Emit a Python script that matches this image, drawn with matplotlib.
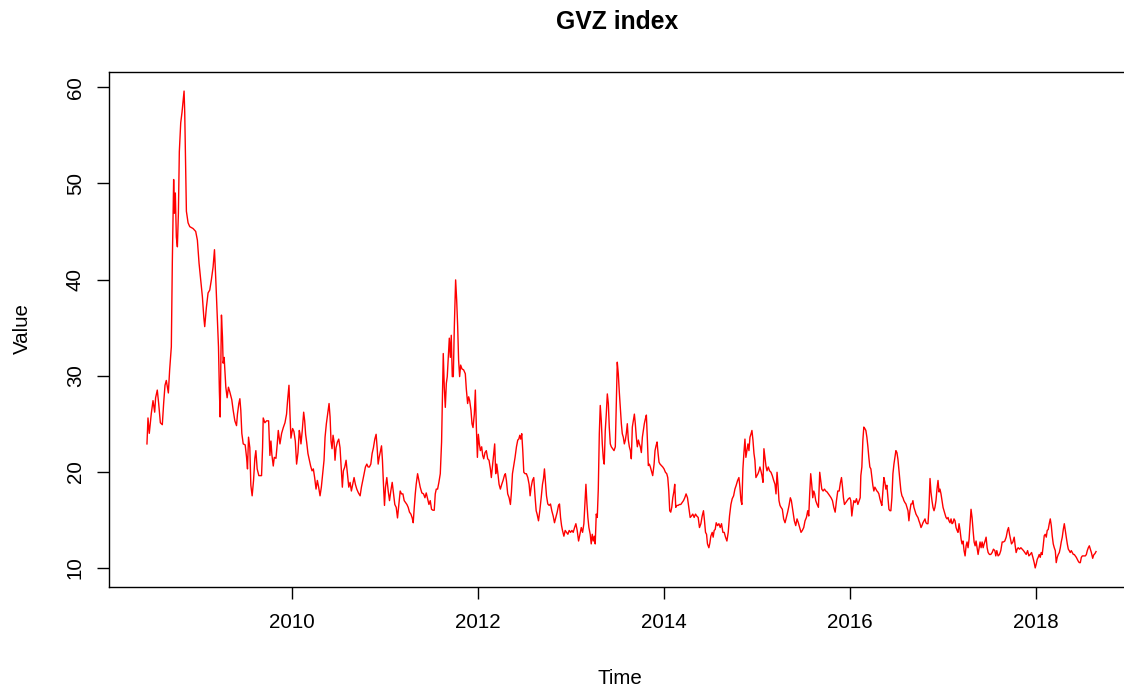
import numpy as np
import matplotlib
matplotlib.use("Agg")
import matplotlib.pyplot as plt

plt.rcParams["font.family"] = ["Liberation Sans", "DejaVu Sans"]

# weekly GVZ readings, split into stretches (decimal year, index value)
t_2008 = [2008.441, 2008.452, 2008.466, 2008.488, 2008.506, 2008.524, 2008.534, 2008.552, 2008.567, 2008.585,
          2008.606, 2008.621, 2008.635, 2008.649, 2008.671, 2008.685, 2008.703, 2008.714, 2008.728, 2008.736,
          2008.746, 2008.757, 2008.768, 2008.779, 2008.789, 2008.804, 2008.818, 2008.829, 2008.840, 2008.847,
          2008.854, 2008.865, 2008.883, 2008.901, 2008.937, 2008.965, 2008.983, 2009.001, 2009.019, 2009.037,
          2009.052, 2009.062, 2009.080, 2009.098, 2009.116, 2009.134, 2009.152, 2009.167, 2009.181, 2009.195,
          2009.210, 2009.220, 2009.228, 2009.242, 2009.253, 2009.260, 2009.271, 2009.289, 2009.303, 2009.317,
          2009.332, 2009.353, 2009.368, 2009.386, 2009.404, 2009.414, 2009.429, 2009.440, 2009.450, 2009.461,
          2009.476, 2009.497, 2009.512, 2009.522, 2009.533, 2009.547, 2009.558, 2009.572, 2009.587, 2009.601,
          2009.612, 2009.626, 2009.644, 2009.673, 2009.684, 2009.691, 2009.709, 2009.727, 2009.749, 2009.763,
          2009.774, 2009.784, 2009.799, 2009.810, 2009.828, 2009.842, 2009.853, 2009.871, 2009.889, 2009.907,
          2009.925, 2009.942, 2009.953, 2009.968, 2009.978, 2009.989, 2010.007, 2010.021, 2010.036, 2010.050,
          2010.065, 2010.079]
v_2008 = [22.9, 25.6, 24.0, 26.1, 27.4, 26.2, 27.7, 28.5, 27.1, 25.1,
          24.9, 27.2, 29.0, 29.5, 28.2, 30.6, 33.0, 42.0, 50.4, 46.9,
          49.0, 44.4, 43.4, 46.9, 53.3, 56.3, 57.4, 58.5, 59.6, 57.4,
          53.5, 47.1, 45.9, 45.5, 45.3, 45.0, 44.1, 41.7, 40.0, 38.2,
          36.1, 35.1, 37.1, 38.6, 38.9, 40.0, 41.3, 43.1, 40.0, 36.5,
          33.0, 28.3, 25.7, 36.3, 34.0, 31.3, 31.9, 28.8, 27.7, 28.8,
          28.3, 27.5, 26.4, 25.3, 24.8, 26.0, 27.1, 27.6, 26.4, 24.0,
          22.9, 22.8, 21.5, 20.3, 23.6, 22.5, 18.6, 17.5, 19.1, 21.4,
          22.2, 20.3, 19.6, 19.6, 22.5, 25.6, 25.1, 25.3, 25.3, 21.7,
          23.2, 21.8, 20.6, 21.5, 21.4, 22.9, 24.3, 22.9, 24.0, 24.6,
          25.1, 26.0, 27.4, 29.0, 26.2, 23.5, 24.5, 24.2, 23.2, 20.8,
          22.0, 24.3]

t_2010 = [2010.086, 2010.097, 2010.111, 2010.126, 2010.137, 2010.147, 2010.158, 2010.172, 2010.187, 2010.201,
          2010.216, 2010.230, 2010.244, 2010.259, 2010.273, 2010.287, 2010.302, 2010.316, 2010.330, 2010.345,
          2010.356, 2010.370, 2010.384, 2010.399, 2010.410, 2010.420, 2010.431, 2010.442, 2010.453, 2010.463,
          2010.474, 2010.489, 2010.503, 2010.517, 2010.532, 2010.542, 2010.553, 2010.568, 2010.582, 2010.596,
          2010.611, 2010.625, 2010.639, 2010.654, 2010.668, 2010.682, 2010.697, 2010.715, 2010.733, 2010.747,
          2010.762, 2010.776, 2010.790, 2010.805, 2010.819, 2010.833, 2010.848, 2010.862, 2010.876, 2010.891,
          2010.905, 2010.916, 2010.927, 2010.938, 2010.948, 2010.963, 2010.973, 2010.984, 2010.995, 2011.006,
          2011.020, 2011.035, 2011.049, 2011.063, 2011.078, 2011.092, 2011.106, 2011.121, 2011.135, 2011.150,
          2011.164, 2011.178, 2011.193, 2011.207, 2011.221, 2011.236, 2011.250, 2011.264, 2011.279, 2011.293,
          2011.304, 2011.315, 2011.326, 2011.336, 2011.351, 2011.365, 2011.379, 2011.397, 2011.415, 2011.430,
          2011.444, 2011.458, 2011.473, 2011.487, 2011.501, 2011.516, 2011.530, 2011.541, 2011.552, 2011.566,
          2011.580, 2011.595, 2011.609, 2011.620, 2011.627, 2011.638, 2011.649, 2011.660, 2011.670, 2011.681,
          2011.692, 2011.703, 2011.713, 2011.724, 2011.735, 2011.746, 2011.760, 2011.771, 2011.782, 2011.792,
          2011.803, 2011.814, 2011.828, 2011.846, 2011.864, 2011.875, 2011.889, 2011.900, 2011.911, 2011.925,
          2011.936, 2011.947, 2011.961, 2011.972, 2011.983, 2011.994, 2012.004, 2012.015]
v_2010 = [23.95, 22.9, 24.3, 26.2, 25.3, 23.9, 23.1, 21.9, 21.2, 20.6,
          20.1, 20.3, 19.4, 18.2, 19.1, 18.4, 17.5, 18.4, 19.8, 21.2,
          23.6, 25.0, 26.0, 27.1, 25.7, 23.2, 22.4, 23.8, 23.1, 21.2,
          22.5, 23.1, 23.4, 22.5, 20.1, 18.4, 20.1, 20.5, 21.2, 19.8,
          18.4, 18.9, 18.0, 18.7, 19.4, 18.7, 18.2, 17.8, 17.5, 18.4,
          19.1, 19.8, 20.5, 20.8, 20.5, 20.5, 20.8, 21.9, 22.5, 23.4,
          23.9, 22.5, 20.8, 21.5, 22.0, 22.7, 21.2, 18.7, 16.5, 18.4,
          19.4, 18.0, 17.0, 18.0, 18.9, 17.7, 16.6, 16.3, 15.2, 16.6,
          18.0, 17.7, 17.7, 17.0, 16.8, 16.6, 16.3, 15.8, 15.6, 15.2,
          14.7, 16.3, 17.7, 18.7, 19.8, 19.1, 18.4, 17.8, 17.7, 17.3,
          17.8, 17.2, 16.6, 17.0, 16.1, 16.0, 16.0, 17.7, 18.2, 18.2,
          18.9, 19.8, 23.1, 28.8, 32.3, 28.8, 26.7, 29.2, 29.9, 31.9,
          33.9, 31.9, 34.2, 29.9, 29.9, 35.1, 39.96, 37.9, 35.1, 31.6,
          29.9, 31.1, 30.7, 30.6, 30.2, 28.6, 27.1, 27.8, 27.4, 26.4,
          25.0, 24.6, 26.0, 28.5, 24.6, 21.5, 23.9, 22.9]

t_2012 = [2012.026, 2012.040, 2012.051, 2012.062, 2012.076, 2012.090, 2012.105, 2012.119, 2012.134, 2012.144,
          2012.155, 2012.169, 2012.180, 2012.191, 2012.202, 2012.213, 2012.227, 2012.241, 2012.256, 2012.270,
          2012.284, 2012.295, 2012.306, 2012.320, 2012.335, 2012.349, 2012.360, 2012.371, 2012.385, 2012.399,
          2012.414, 2012.428, 2012.439, 2012.450, 2012.460, 2012.471, 2012.482, 2012.493, 2012.507, 2012.521,
          2012.536, 2012.550, 2012.561, 2012.572, 2012.586, 2012.600, 2012.615, 2012.626, 2012.636, 2012.651,
          2012.665, 2012.680, 2012.694, 2012.705, 2012.715, 2012.726, 2012.737, 2012.751, 2012.766, 2012.780,
          2012.794, 2012.809, 2012.823, 2012.838, 2012.852, 2012.866, 2012.877, 2012.888, 2012.899, 2012.909,
          2012.924, 2012.938, 2012.953, 2012.967, 2012.981, 2012.996, 2013.010, 2013.024, 2013.039, 2013.053,
          2013.067, 2013.082, 2013.096, 2013.111, 2013.125, 2013.139, 2013.150, 2013.161, 2013.172, 2013.182,
          2013.193, 2013.207, 2013.218, 2013.229, 2013.240, 2013.251, 2013.261, 2013.272, 2013.283, 2013.294,
          2013.305, 2013.315, 2013.326, 2013.337, 2013.348, 2013.358, 2013.369, 2013.380, 2013.391, 2013.402,
          2013.412, 2013.423, 2013.434, 2013.448, 2013.463, 2013.477, 2013.488, 2013.498, 2013.509, 2013.520,
          2013.531, 2013.542, 2013.552, 2013.563, 2013.574, 2013.585, 2013.595, 2013.606, 2013.617, 2013.628,
          2013.639, 2013.649, 2013.660, 2013.671, 2013.682, 2013.692, 2013.703, 2013.714, 2013.725, 2013.736,
          2013.746, 2013.757, 2013.768, 2013.779, 2013.789, 2013.800, 2013.811, 2013.822, 2013.832, 2013.843,
          2013.854, 2013.865, 2013.879, 2013.894, 2013.904, 2013.915, 2013.926, 2013.937, 2013.947, 2013.958,
          2013.973, 2013.987, 2014.001, 2014.016, 2014.030, 2014.041, 2014.052, 2014.062]
v_2012 = [22.2, 22.6, 21.7, 21.35, 22.0, 22.2, 21.35, 21.2, 20.3, 19.4,
          20.5, 21.9, 22.9, 19.8, 20.8, 19.95, 18.7, 18.2, 18.7, 19.1,
          19.6, 19.8, 19.1, 17.7, 17.3, 16.6, 17.9, 19.8, 20.65, 21.5,
          22.6, 23.3, 23.4, 23.8, 23.4, 23.96, 22.2, 19.95, 19.8, 19.8,
          19.4, 18.7, 17.5, 18.4, 19.1, 19.4, 17.3, 15.95, 15.6, 14.9,
          15.95, 17.3, 18.7, 19.3, 20.3, 18.9, 17.5, 16.65, 16.5, 16.65,
          15.95, 15.4, 14.7, 15.25, 15.8, 16.5, 16.65, 15.25, 14.4, 13.9,
          13.3, 13.9, 13.7, 13.5, 13.9, 13.7, 13.9, 13.7, 14.2, 14.6,
          13.9, 12.8, 13.5, 14.2, 13.7, 14.6, 16.65, 18.7, 16.65, 15.25,
          14.2, 13.5, 12.5, 13.5, 12.8, 13.3, 12.5, 15.6, 15.25, 18.2,
          23.96, 26.9, 25.35, 22.9, 21.35, 20.8, 24.3, 26.0, 28.1, 27.1,
          24.65, 22.9, 22.6, 22.4, 22.2, 22.6, 27.1, 31.4, 30.2, 28.3,
          26.7, 25.0, 23.96, 23.6, 22.9, 23.3, 23.96, 25.0, 23.3, 22.6,
          22.2, 21.35, 24.65, 25.35, 26.0, 25.0, 23.6, 22.6, 23.3, 22.9,
          22.6, 22.0, 23.6, 24.3, 25.0, 25.5, 25.9, 23.3, 20.65, 20.8,
          20.5, 20.1, 19.6, 20.8, 22.2, 22.7, 23.1, 21.9, 21.0, 20.8,
          20.65, 20.5, 20.3, 19.95, 19.8, 19.4, 18.0, 15.95]

t_2014 = [2014.073, 2014.084, 2014.095, 2014.106, 2014.116, 2014.127, 2014.138, 2014.152, 2014.167, 2014.181,
          2014.195, 2014.210, 2014.224, 2014.238, 2014.253, 2014.267, 2014.282, 2014.296, 2014.310, 2014.325,
          2014.339, 2014.353, 2014.368, 2014.382, 2014.397, 2014.411, 2014.425, 2014.436, 2014.447, 2014.458,
          2014.468, 2014.483, 2014.494, 2014.504, 2014.519, 2014.529, 2014.540, 2014.551, 2014.562, 2014.576,
          2014.591, 2014.605, 2014.619, 2014.634, 2014.648, 2014.662, 2014.677, 2014.691, 2014.705, 2014.720,
          2014.734, 2014.749, 2014.763, 2014.777, 2014.792, 2014.806, 2014.817, 2014.828, 2014.838, 2014.849,
          2014.860, 2014.871, 2014.881, 2014.892, 2014.903, 2014.914, 2014.925, 2014.935, 2014.946, 2014.957,
          2014.968, 2014.978, 2014.989, 2015.000, 2015.011, 2015.022, 2015.032, 2015.043, 2015.054, 2015.065,
          2015.075, 2015.086, 2015.097, 2015.108, 2015.122, 2015.136, 2015.151, 2015.165, 2015.180, 2015.194,
          2015.205, 2015.216, 2015.226, 2015.237, 2015.248, 2015.259, 2015.273, 2015.287, 2015.302, 2015.316,
          2015.330, 2015.345, 2015.359, 2015.370, 2015.381, 2015.392, 2015.402, 2015.417, 2015.431, 2015.445,
          2015.460, 2015.474, 2015.488, 2015.503, 2015.517, 2015.532, 2015.546, 2015.557, 2015.567, 2015.578,
          2015.589, 2015.600, 2015.611, 2015.621, 2015.632, 2015.647, 2015.661, 2015.675, 2015.686, 2015.697,
          2015.711, 2015.726, 2015.740, 2015.754, 2015.769, 2015.783, 2015.797, 2015.812, 2015.826, 2015.841,
          2015.855, 2015.869, 2015.884, 2015.898, 2015.909, 2015.920, 2015.930, 2015.941, 2015.955, 2015.970,
          2015.984, 2015.999, 2016.009, 2016.020, 2016.031, 2016.042, 2016.056, 2016.070, 2016.085, 2016.099,
          2016.110, 2016.117]
v_2014 = [15.8, 16.3, 17.3, 17.9, 18.7, 16.3, 16.5, 16.5, 16.6, 16.6,
          16.8, 17.0, 17.3, 17.7, 17.3, 16.3, 15.25, 15.4, 15.6, 15.25,
          15.6, 15.4, 15.25, 14.2, 14.6, 15.4, 15.95, 14.9, 13.7, 13.5,
          12.5, 12.1, 12.6, 13.3, 13.7, 13.2, 13.9, 14.0, 14.7, 14.4,
          14.6, 14.2, 14.6, 13.7, 13.7, 13.2, 12.8, 13.7, 15.4, 16.6,
          17.2, 17.5, 18.2, 18.6, 19.1, 19.4, 18.4, 17.0, 16.6, 20.3,
          22.0, 23.4, 21.5, 22.2, 22.9, 22.2, 23.6, 23.9, 24.3, 23.3,
          21.9, 21.2, 19.4, 19.6, 19.8, 20.1, 20.5, 20.1, 19.6, 18.9,
          22.4, 21.5, 20.6, 20.1, 20.5, 20.1, 19.95, 19.6, 19.1, 18.7,
          17.7, 19.95, 18.7, 17.0, 16.5, 16.3, 16.1, 15.1, 14.7, 15.25,
          15.8, 16.5, 17.3, 17.0, 16.3, 15.6, 14.9, 14.4, 15.1, 14.7,
          14.2, 13.7, 13.9, 14.2, 14.9, 15.25, 15.95, 15.4, 17.7, 19.8,
          18.7, 17.3, 18.0, 17.7, 17.0, 16.6, 16.3, 19.95, 19.1, 18.2,
          18.0, 18.2, 18.0, 17.9, 17.7, 17.5, 17.3, 17.0, 16.3, 15.8,
          17.0, 18.0, 18.0, 18.9, 19.4, 18.4, 17.3, 16.6, 16.8, 17.0,
          17.2, 17.3, 17.0, 15.4, 16.3, 17.0, 16.8, 17.2, 16.6, 17.0,
          17.3, 19.6]

t_2016 = [2016.128, 2016.139, 2016.149, 2016.160, 2016.171, 2016.182, 2016.193, 2016.203, 2016.214, 2016.225,
          2016.236, 2016.246, 2016.257, 2016.268, 2016.279, 2016.290, 2016.300, 2016.311, 2016.322, 2016.333,
          2016.343, 2016.354, 2016.365, 2016.376, 2016.386, 2016.397, 2016.408, 2016.419, 2016.430, 2016.440,
          2016.451, 2016.462, 2016.473, 2016.483, 2016.494, 2016.505, 2016.516, 2016.527, 2016.537, 2016.548,
          2016.559, 2016.570, 2016.580, 2016.591, 2016.602, 2016.613, 2016.624, 2016.634, 2016.645, 2016.656,
          2016.667, 2016.677, 2016.688, 2016.699, 2016.710, 2016.721, 2016.731, 2016.742, 2016.753, 2016.764,
          2016.774, 2016.785, 2016.796, 2016.807, 2016.817, 2016.828, 2016.839, 2016.850, 2016.861, 2016.871,
          2016.882, 2016.893, 2016.904, 2016.914, 2016.925, 2016.936, 2016.947, 2016.958, 2016.968, 2016.979,
          2016.990, 2017.001, 2017.011, 2017.022, 2017.033, 2017.044, 2017.055, 2017.065, 2017.076, 2017.087,
          2017.098, 2017.108, 2017.119, 2017.130, 2017.141, 2017.152, 2017.162, 2017.173, 2017.184, 2017.195,
          2017.205, 2017.216, 2017.227, 2017.238, 2017.249, 2017.259, 2017.270, 2017.281, 2017.292, 2017.302,
          2017.313, 2017.324, 2017.335, 2017.346, 2017.356, 2017.367, 2017.378, 2017.389, 2017.399, 2017.410,
          2017.421, 2017.432, 2017.443, 2017.453, 2017.464, 2017.475, 2017.486, 2017.500, 2017.514, 2017.529,
          2017.543, 2017.558, 2017.568, 2017.579, 2017.593, 2017.608, 2017.622, 2017.637, 2017.651, 2017.665,
          2017.680, 2017.694, 2017.705, 2017.716, 2017.726, 2017.737, 2017.752, 2017.766, 2017.777, 2017.787,
          2017.798, 2017.809, 2017.823, 2017.838, 2017.852, 2017.866, 2017.881, 2017.895, 2017.910, 2017.924,
          2017.938, 2017.953, 2017.967, 2017.981, 2017.992, 2018.003, 2018.014, 2018.024, 2018.035, 2018.046,
          2018.057, 2018.067, 2018.078, 2018.089, 2018.100, 2018.111, 2018.121, 2018.132, 2018.143, 2018.154,
          2018.165, 2018.175, 2018.186, 2018.197, 2018.208, 2018.218, 2018.229, 2018.240, 2018.251, 2018.262,
          2018.272, 2018.283, 2018.294, 2018.305, 2018.315, 2018.326, 2018.337, 2018.348, 2018.358, 2018.369,
          2018.380, 2018.391, 2018.402, 2018.412, 2018.423, 2018.434, 2018.445, 2018.455, 2018.466, 2018.477,
          2018.488, 2018.499, 2018.509, 2018.520, 2018.531, 2018.542, 2018.552, 2018.563, 2018.574, 2018.585,
          2018.596, 2018.610, 2018.621, 2018.635, 2018.646]
v_2016 = [20.5, 23.3, 24.65, 24.5, 24.3, 23.6, 22.6, 21.5, 20.5, 20.3,
          19.4, 18.6, 18.0, 18.4, 18.2, 18.0, 17.9, 17.7, 17.2, 16.8,
          16.5, 17.9, 19.4, 18.9, 18.2, 18.6, 17.3, 16.1, 15.95, 15.95,
          17.3, 19.8, 20.8, 21.5, 22.2, 22.0, 21.3, 20.1, 19.1, 18.0,
          17.5, 17.3, 17.0, 16.8, 16.65, 16.3, 15.95, 14.9, 15.95, 16.65,
          16.65, 17.0, 16.3, 15.95, 15.6, 15.4, 15.25, 14.9, 14.6, 14.2,
          14.4, 14.7, 14.9, 15.1, 14.7, 14.6, 14.6, 16.3, 19.3, 17.9,
          17.0, 16.3, 15.95, 16.3, 17.0, 18.2, 19.1, 17.9, 18.2, 17.7,
          17.0, 16.3, 15.95, 15.6, 15.25, 15.1, 15.25, 14.9, 14.7, 15.1,
          14.6, 14.7, 15.1, 14.9, 14.2, 13.9, 13.7, 14.6, 13.9, 13.0,
          12.5, 12.8, 11.8, 11.25, 12.3, 12.7, 12.1, 13.0, 14.6, 16.1,
          15.25, 13.9, 12.7, 12.3, 12.8, 12.1, 11.4, 12.1, 12.7, 12.1,
          12.7, 12.1, 12.5, 12.8, 13.2, 12.1, 11.6, 11.4, 11.4, 11.6,
          11.95, 11.8, 11.25, 11.8, 11.25, 11.4, 11.8, 12.7, 12.7, 12.8,
          13.2, 13.9, 14.2, 13.5, 13.0, 12.5, 12.7, 13.2, 12.3, 11.6,
          11.95, 12.1, 11.95, 12.1, 11.95, 11.8, 11.6, 11.4, 11.8, 11.25,
          11.4, 11.6, 11.1, 10.55, 10.0, 10.4, 10.9, 11.1, 11.4, 11.1,
          11.6, 11.4, 12.3, 13.35, 13.5, 13.2, 13.9, 14.0, 14.6, 15.1,
          14.4, 13.35, 12.5, 12.1, 11.8, 10.55, 11.1, 11.4, 11.6, 12.1,
          12.7, 13.2, 14.0, 14.6, 13.9, 13.2, 12.5, 11.95, 11.8, 11.6,
          11.8, 11.6, 11.4, 11.4, 11.25, 11.1, 10.9, 10.7, 10.55, 10.55,
          11.1, 11.25, 11.25, 11.25, 11.25, 11.4, 11.8, 12.1, 12.3, 11.95,
          11.6, 11.0, 11.35, 11.5, 11.7]

years = np.concatenate([t_2008, t_2010, t_2012, t_2014, t_2016])
gvz = np.concatenate([v_2008, v_2010, v_2012, v_2014, v_2016])

x_ticks = [2010, 2012, 2014, 2016, 2018]
y_ticks = [10, 20, 30, 40, 50, 60]

W, H = 1124, 690
fig = plt.figure(figsize=(W / 100, H / 100), dpi=100)
ax = fig.add_axes([109 / W, 1 - 587 / H, (W - 109) / W, (587 - 72) / H])

ax.plot(years, gvz, color="red", lw=1.0)

# R-style 4% padding on the value axis
ymin, ymax = gvz.min(), gvz.max()
pad = 0.04 * (ymax - ymin)
ax.set_ylim(ymin - pad, ymax + pad)
x0 = years.min() - 0.04 * (years.max() - years.min())
ax.set_xlim(x0, x0 + (W - 109) / 93.0)

ax.set_xticks(x_ticks)
ax.set_yticks(y_ticks)
ax.tick_params(axis="both", length=8.5, width=1.0, labelsize=14.8, colors="black")
ax.tick_params(axis="x", pad=10)
ax.tick_params(axis="y", pad=9)
for lbl in ax.get_yticklabels():
    lbl.set_rotation(90)
    lbl.set_va("center")

for side in ["top", "bottom", "left"]:
    ax.spines[side].set_linewidth(1.0)
    ax.spines[side].set_color("black")
ax.spines["right"].set_visible(False)

fig.text(617.5 / W, 1 - 22 / H, "GVZ index", ha="center", va="center",
         fontsize=17.8, fontweight="bold")
fig.text(620 / W, 1 - 678 / H, "Time", ha="center", va="center", fontsize=14.8)
fig.text(22 / W, 1 - 329 / H, "Value", ha="center", va="center", rotation=90, fontsize=14.8)

fig.savefig("out.png", dpi=100)
plt.close(fig)
